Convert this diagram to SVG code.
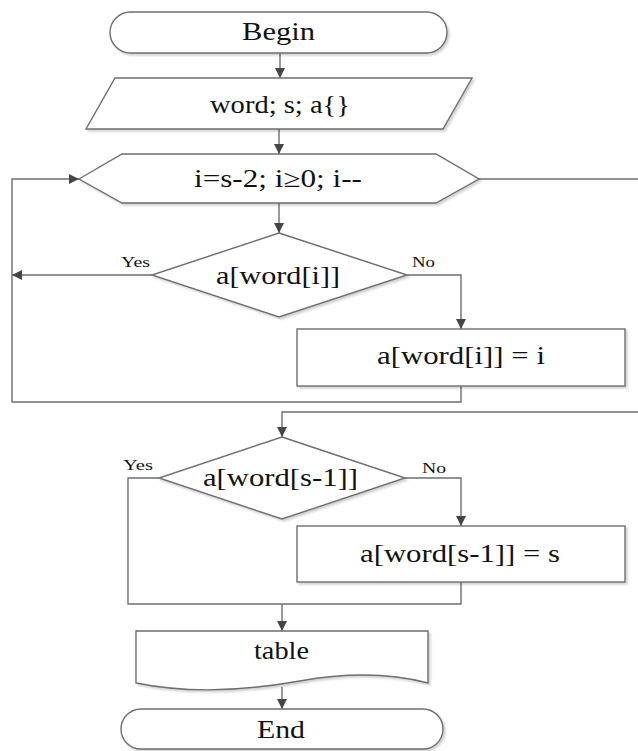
<svg xmlns="http://www.w3.org/2000/svg" width="638" height="751" viewBox="0 0 638 751">
<style>
.shape{fill:#fff;stroke:#6e6e6e;stroke-width:1.4}
.conn{fill:none;stroke:#6e6e6e;stroke-width:1.4}
text{font-family:'Liberation Serif','DejaVu Serif','Times New Roman',serif;fill:#111;text-anchor:middle}
.t{font-size:25px}
.lbl{font-size:15px}
</style>
<defs>
<marker id="arr" viewBox="0 0 10 10" refX="10" refY="5" markerWidth="10" markerHeight="10" markerUnits="userSpaceOnUse" orient="auto">
<path d="M0,0 L10,5 L0,10 z" fill="#454545"/>
</marker>
<filter id="sh" x="-10%" y="-10%" width="120%" height="130%">
<feGaussianBlur in="SourceAlpha" stdDeviation="1.2"/>
<feOffset dx="2" dy="2" result="b"/>
<feComponentTransfer><feFuncA type="linear" slope="0.18"/></feComponentTransfer>
<feMerge><feMergeNode/><feMergeNode in="SourceGraphic"/></feMerge>
</filter>
</defs>
<rect width="638" height="751" fill="#fff"/>
<g id="connectors">
<line class="conn" x1="280" y1="53" x2="280" y2="78" marker-end="url(#arr)"/>
<line class="conn" x1="279" y1="129" x2="279" y2="154" marker-end="url(#arr)"/>
<line class="conn" x1="279" y1="203" x2="279" y2="233" marker-end="url(#arr)"/>
<polyline class="conn" points="479,179 638,179"/>
<polyline class="conn" points="407,275 461,275 461,329" marker-end="url(#arr)"/>
<polyline class="conn" points="152,275 12,275" marker-end="url(#arr)"/>
<polyline class="conn" points="461,386 461,402 12,402 12,179 79,179" marker-end="url(#arr)"/>
<polyline class="conn" points="638,412 282,412 282,437" marker-end="url(#arr)"/>
<polyline class="conn" points="405,478 461,478 461,526" marker-end="url(#arr)"/>
<polyline class="conn" points="159,478 128,478 128,604 461,604 461,582"/>
<line class="conn" x1="282" y1="604" x2="282" y2="631" marker-end="url(#arr)"/>
<line class="conn" x1="282" y1="687" x2="282" y2="709" marker-end="url(#arr)"/>
<text class="lbl" font-family="Liberation Serif, serif" x="135.5" y="267" textLength="29" lengthAdjust="spacingAndGlyphs">Yes</text>
<text class="lbl" font-family="Liberation Serif, serif" x="423.5" y="267" textLength="23" lengthAdjust="spacingAndGlyphs">No</text>
<text class="lbl" font-family="Liberation Serif, serif" x="138" y="470" textLength="30" lengthAdjust="spacingAndGlyphs">Yes</text>
<text class="lbl" font-family="Liberation Serif, serif" x="434" y="473" textLength="24" lengthAdjust="spacingAndGlyphs">No</text>
</g>
<g id="begin">
<rect class="shape" filter="url(#sh)" x="110" y="12" width="337" height="41" rx="20.5"/>
<text class="t" font-family="Liberation Serif, serif" x="278.5" y="40" textLength="73" lengthAdjust="spacingAndGlyphs">Begin</text>
</g>
<g id="input">
<polygon class="shape" filter="url(#sh)" points="115,78 472,78 443,129 86,129"/>
<text class="t" font-family="Liberation Serif, serif" x="280" y="113" textLength="140" lengthAdjust="spacingAndGlyphs">word; s; a{}</text>
</g>
<g id="loop">
<polygon class="shape" filter="url(#sh)" points="79,179 122,154 436,154 479,179 436,203 122,203"/>
<text class="t" font-family="Liberation Serif, serif" x="278" y="187" textLength="168" lengthAdjust="spacingAndGlyphs">i=s-2; i≥0; i--</text>
</g>
<g id="cond1">
<polygon class="shape" filter="url(#sh)" points="279,233 407,275 279,317 152,275"/>
<text class="t" font-family="Liberation Serif, serif" x="278" y="284" textLength="124" lengthAdjust="spacingAndGlyphs">a[word[i]]</text>
</g>
<g id="assign1">
<rect class="shape" filter="url(#sh)" x="297" y="329" width="328" height="57"/>
<text class="t" font-family="Liberation Serif, serif" x="461" y="364" textLength="168" lengthAdjust="spacingAndGlyphs">a[word[i]] = i</text>
</g>
<g id="cond2">
<polygon class="shape" filter="url(#sh)" points="282,437 405,478 282,519 159,478"/>
<text class="t" font-family="Liberation Serif, serif" x="280.5" y="486" textLength="155" lengthAdjust="spacingAndGlyphs">a[word[s-1]]</text>
</g>
<g id="assign2">
<rect class="shape" filter="url(#sh)" x="297" y="526" width="328" height="56"/>
<text class="t" font-family="Liberation Serif, serif" x="460" y="562" textLength="200" lengthAdjust="spacingAndGlyphs">a[word[s-1]] = s</text>
</g>
<g id="table">
<path class="shape" filter="url(#sh)" d="M136,631 H428 V683 C390,673 350,672 300,681 C250,690 190,694 136,683 Z"/>
<text class="t" font-family="Liberation Serif, serif" x="281.5" y="659" textLength="55" lengthAdjust="spacingAndGlyphs">table</text>
</g>
<g id="end">
<rect class="shape" filter="url(#sh)" x="121" y="709" width="322" height="40" rx="20"/>
<text class="t" font-family="Liberation Serif, serif" x="281" y="738" textLength="48" lengthAdjust="spacingAndGlyphs">End</text>
</g>
</svg>
